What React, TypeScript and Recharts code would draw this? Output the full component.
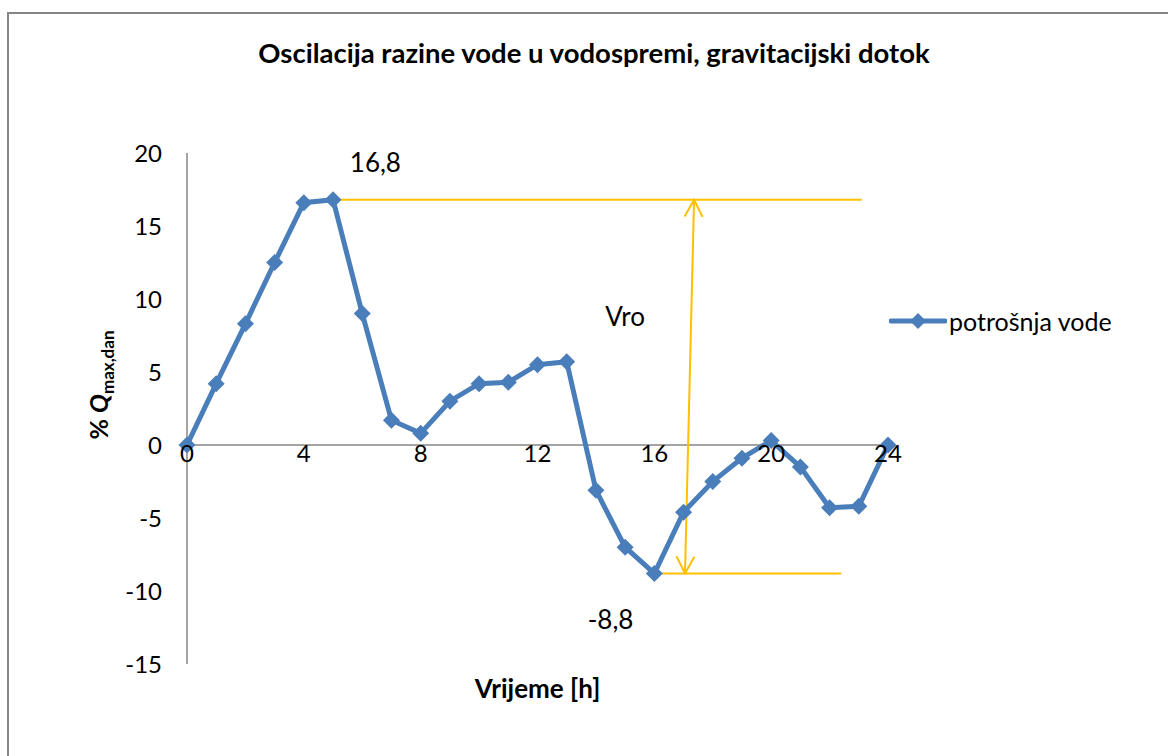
import React from "react";
import {
  LineChart,
  Line,
  XAxis,
  YAxis,
  ReferenceLine,
  ReferenceDot,
} from "recharts";

// sati u danu
const hours = [
  0, 1, 2, 3, 4, 5, 6, 7, 8, 9, 10, 11, 12, 13, 14, 15, 16, 17, 18, 19, 20, 21,
  22, 23, 24,
];
// oscilacija razine vode, % Qmax,dan
const levels = [
  0, 4.2, 8.3, 12.5, 16.6, 16.8, 9.0, 1.7, 0.8, 3.0, 4.2, 4.3, 5.5, 5.7, -3.1,
  -7.0, -8.8, -4.6, -2.5, -0.9, 0.3, -1.5, -4.3, -4.2, 0,
];
const xTicks = [0, 4, 8, 12, 16, 20, 24];
const yTicks = [-15, -10, -5, 0, 5, 10, 15, 20];

const seriesName = "potrošnja vode";
const maxLevel = 16.8;
const minLevel = -8.8;

const data = hours.map((h, i) => ({ h, v: levels[i] }));

const W = 1168;
const H = 756;
const PLOT_TOP = 153;
const PLOT_BOTTOM = 664;
const PLOT_LEFT = 187;
const PLOT_RIGHT = 888;
const Y_MIN = -15;
const Y_MAX = 20;
const zeroY =
  PLOT_TOP + ((PLOT_BOTTOM - PLOT_TOP) * Y_MAX) / (Y_MAX - Y_MIN);

const BLUE = "#4A7EBB";
const ORANGE = "#FFC000";
const AXIS = "#868686";
const FONT = "Lato, 'Open Sans', sans-serif";

const Diamond = ({ cx, cy }: any) => {
  if (cx == null || cy == null) return null;
  const r = 8.5;
  return (
    <polygon
      points={`${cx},${cy - r} ${cx + r},${cy} ${cx},${cy + r} ${cx - r},${cy}`}
      fill={BLUE}
    />
  );
};

// x tick labels sit under the zero line, not at the bottom
const XTick = ({ x, payload }: any) => (
  <text
    x={x}
    y={zeroY + 17}
    textAnchor="middle"
    fontSize={24}
    fontFamily={FONT}
    fill="#000"
  >
    {payload.value}
  </text>
);

const ArrowShape = (p: any) => {
  const { x1, y1, x2, y2 } = p;
  if ([x1, y1, x2, y2].some((v) => v == null)) return null;
  const head = (tx: number, ty: number, fx: number, fy: number) => {
    const dx = fx - tx;
    const dy = fy - ty;
    const len = Math.hypot(dx, dy) || 1;
    const ux = dx / len;
    const uy = dy / len;
    const L = 17;
    const Wd = 9;
    return (
      <polyline
        points={`${tx + ux * L - uy * Wd},${ty + uy * L + ux * Wd} ${tx},${ty} ${
          tx + ux * L + uy * Wd
        },${ty + uy * L - ux * Wd}`}
        fill="none"
        stroke={ORANGE}
        strokeWidth={2}
      />
    );
  };
  return (
    <g>
      <line x1={x1} y1={y1} x2={x2} y2={y2} stroke={ORANGE} strokeWidth={2} />
      {head(x1, y1, x2, y2)}
      {head(x2, y2, x1, y1)}
    </g>
  );
};

const labelStyle = { fontSize: 26, fontFamily: FONT, fill: "#000" };

export default function App() {
  return (
    <div
      style={{
        position: "absolute",
        left: 0,
        top: 0,
        width: W,
        height: H,
        background: "#fff",
        fontFamily: FONT,
      }}
    >
      <div
        style={{
          position: "absolute",
          left: 7,
          top: 12,
          width: W,
          height: H,
          borderLeft: `2px solid ${AXIS}`,
          borderTop: `2px solid ${AXIS}`,
        }}
      />
      <LineChart
        width={W}
        height={H}
        data={data}
        margin={{
          top: PLOT_TOP,
          left: PLOT_LEFT - 60,
          right: W - PLOT_RIGHT,
          bottom: H - PLOT_BOTTOM - 30,
        }}
      >
        <XAxis
          dataKey="h"
          type="number"
          domain={[0, 24]}
          ticks={xTicks}
          axisLine={false}
          tickLine={false}
          tick={<XTick />}
          height={30}
          interval={0}
        />
        <YAxis
          type="number"
          domain={[Y_MIN, Y_MAX]}
          ticks={yTicks}
          width={60}
          axisLine={{ stroke: AXIS, strokeWidth: 1.5 }}
          tickLine={false}
          tickSize={0}
          tickMargin={25}
          tick={{ fontSize: 24, fontFamily: FONT, fill: "#000" }}
          interval={0}
        />
        <ReferenceLine
          y={0}
          stroke={AXIS}
          strokeWidth={1.5}
          ifOverflow="extendDomain"
        />
        <ReferenceLine
          segment={[
            { x: 5, y: maxLevel },
            { x: 23.1, y: maxLevel },
          ]}
          stroke={ORANGE}
          strokeWidth={2}
        />
        <ReferenceLine
          segment={[
            { x: 16, y: minLevel },
            { x: 22.4, y: minLevel },
          ]}
          stroke={ORANGE}
          strokeWidth={2}
        />
        <ReferenceLine
          segment={[
            { x: 17.36, y: maxLevel },
            { x: 17.05, y: minLevel },
          ]}
          shape={ArrowShape}
        />
        <Line
          dataKey="v"
          name={seriesName}
          stroke={BLUE}
          strokeWidth={5}
          dot={<Diamond />}
          activeDot={false}
          isAnimationActive={false}
        />
        <ReferenceDot
          x={6.45}
          y={19.3}
          r={0}
          fill="none"
          stroke="none"
          label={{ value: "16,8", position: "center", ...labelStyle }}
        />
        <ReferenceDot
          x={15}
          y={8.8}
          r={0}
          fill="none"
          stroke="none"
          label={{ value: "Vro", position: "center", ...labelStyle }}
        />
        <ReferenceDot
          x={14.5}
          y={-12}
          r={0}
          fill="none"
          stroke="none"
          label={{ value: "-8,8", position: "center", ...labelStyle }}
        />
      </LineChart>

      <div
        style={{
          position: "absolute",
          left: 20,
          top: 37,
          width: W - 20,
          textAlign: "center",
          fontSize: 27.5,
          lineHeight: "32px",
          fontWeight: 700,
          color: "#000",
        }}
      >
        Oscilacija razine vode u vodospremi, gravitacijski dotok
      </div>

      <div
        style={{
          position: "absolute",
          left: PLOT_LEFT,
          width: PLOT_RIGHT - PLOT_LEFT,
          top: 672,
          lineHeight: "32px",
          textAlign: "center",
          fontSize: 26,
          fontWeight: 700,
        }}
      >
        Vrijeme [h]
      </div>

      <div
        style={{
          position: "absolute",
          left: 100,
          top: 385,
          transform: "translate(-50%, -50%) rotate(-90deg)",
          whiteSpace: "nowrap",
          fontSize: 25,
          fontWeight: 700,
        }}
      >
        % <i>Q</i>
        <sub style={{ fontSize: 17 }}>max,dan</sub>
      </div>

      <div
        style={{
          position: "absolute",
          left: 889,
          top: 306,
          display: "flex",
          alignItems: "center",
          fontSize: 25,
          color: "#000",
        }}
      >
        <svg width={58} height={28}>
          <line
            x1={2}
            y1={14}
            x2={56}
            y2={14}
            stroke={BLUE}
            strokeWidth={5}
            strokeLinecap="round"
          />
          <polygon points="29,6 37,14 29,22 21,14" fill={BLUE} />
        </svg>
        <span style={{ marginLeft: 2 }}>{seriesName}</span>
      </div>
    </div>
  );
}
